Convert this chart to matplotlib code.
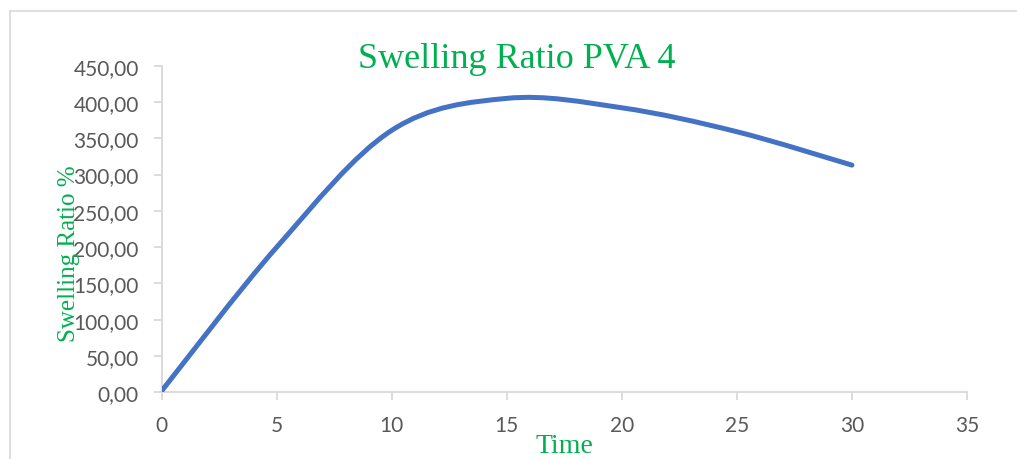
import matplotlib
matplotlib.use("Agg")
import matplotlib.pyplot as plt
from matplotlib.path import Path
from matplotlib.patches import PathPatch
from matplotlib.lines import Line2D
import numpy as np

# Swelling ratio (%) of PVA 4 sample over time
time = [0, 5, 10, 15, 20, 25, 30]
swelling = [2, 200, 361, 405, 392, 359, 313]

x_ticks = [0, 5, 10, 15, 20, 25, 30, 35]
y_ticks = [0, 50, 100, 150, 200, 250, 300, 350, 400, 450]

title_text = "Swelling Ratio PVA 4"
x_label = "Time"
y_label = "Swelling Ratio %"

W, H = 1017, 460
fig = plt.figure(figsize=(W / 100, H / 100), dpi=100)

# chart area outline: left and top edges
border = "#d9d9d9"
fig.add_artist(Line2D([9.5 / W, 9.5 / W], [0, 1 - 12 / H], transform=fig.transFigure,
                      color=border, linewidth=1.2))
fig.add_artist(Line2D([9.5 / W, 1], [1 - 12 / H, 1 - 12 / H], transform=fig.transFigure,
                      color=border, linewidth=1.2))

ax = fig.add_axes([161.7 / W, 1 - 393.3 / H, (967 - 161.7) / W, (393.3 - 66.7) / H])
ax.set_xlim(0, 35)
ax.set_ylim(0, 450)


def smooth_path(xs, ys, k=1 / 6):
    """Cubic Bezier path through the points (Catmull-Rom style smoothing)."""
    pts = np.column_stack([xs, ys]).astype(float)
    n = len(pts)
    verts = [pts[0]]
    codes = [Path.MOVETO]
    for i in range(n - 1):
        p0 = pts[i - 1] if i > 0 else pts[i]
        p1 = pts[i]
        p2 = pts[i + 1]
        p3 = pts[i + 2] if i + 2 < n else pts[i + 1]
        c1 = p1 + (p2 - p0) * k
        c2 = p2 - (p3 - p1) * k
        verts += [c1, c2, p2]
        codes += [Path.CURVE4] * 3
    return Path(verts, codes)


ax.add_patch(PathPatch(smooth_path(time, swelling), facecolor="none",
                       edgecolor="#4472C4", linewidth=3.6,
                       capstyle="round", joinstyle="round", zorder=3))

for side in ("top", "right"):
    ax.spines[side].set_visible(False)
for side in ("left", "bottom"):
    ax.spines[side].set_color(border)
    ax.spines[side].set_linewidth(1.3)

ax.set_xticks(x_ticks)
ax.set_yticks(y_ticks)
ax.set_xticklabels([str(v) for v in x_ticks])
ax.set_yticklabels([f"{v:.2f}".replace(".", ",") for v in y_ticks])
ax.tick_params(axis="both", direction="out", length=5.5, width=1.3,
               color=border, labelcolor="#595959", labelsize=15)
for lab in ax.get_xticklabels() + ax.get_yticklabels():
    lab.set_family("Lato")
ax.tick_params(axis="y", pad=11)
ax.tick_params(axis="x", pad=11)

green = "#00B050"
fig.text(517 / W, 1 - 68.3 / H, title_text, ha="center", va="baseline",
         family="Liberation Serif", fontsize=26, color=green)
fig.text(564 / W, 0.5 / H, x_label, ha="center", va="bottom",
         family="Liberation Serif", fontsize=20, color=green)
fig.text(69 / W, 1 - 253.5 / H, y_label, ha="center", va="center",
         rotation=90, family="Liberation Serif", fontsize=18, color=green)

fig.savefig("out.png", dpi=100)
